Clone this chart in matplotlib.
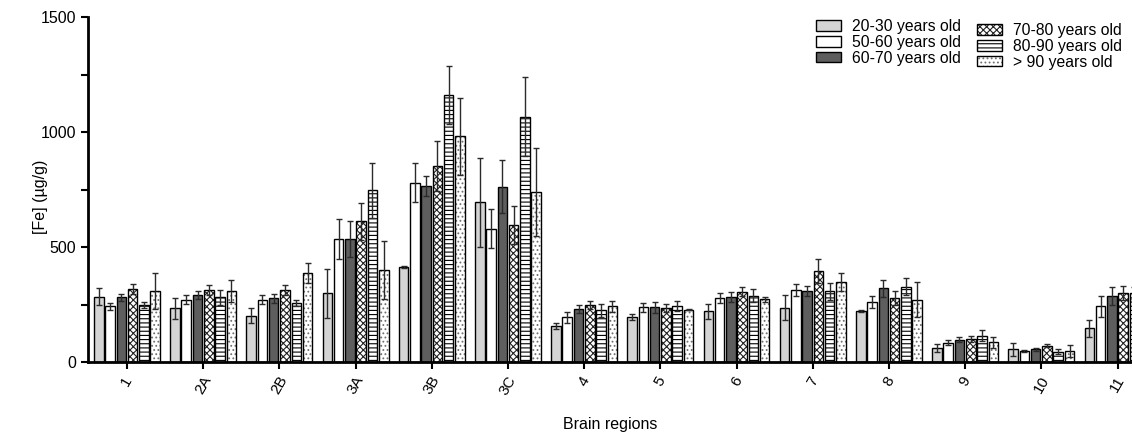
import matplotlib.pyplot as plt
from matplotlib.patches import Patch
from matplotlib.colors import to_rgba
import numpy as np

plt.rcParams['font.family'] = ['Liberation Sans', 'DejaVu Sans']
plt.rcParams['hatch.linewidth'] = 0.8

regions = ['1', '2A', '2B', '3A', '3B', '3C', '4', '5', '6', '7', '8', '9', '10', '11']
age_groups = ['20-30 years old', '50-60 years old', '60-70 years old',
              '70-80 years old', '80-90 years old', '> 90 years old']

fe_20_30 = [284, 233, 201, 299, 412, 694, 155, 197, 220, 236, 220, 62, 55, 146]
sd_20_30 = [37, 45, 32, 107, 5, 192, 13, 13, 32, 54, 4, 18, 29, 37]
fe_50_60 = [243, 271, 271, 536, 780, 580, 194, 238, 278, 312, 259, 84, 48, 242]
sd_50_60 = [15, 19, 19, 86, 84, 84, 25, 19, 23, 27, 26, 12, 4, 45]
fe_60_70 = [281, 291, 277, 535, 765, 762, 232, 238, 284, 309, 320, 97, 55, 287]
sd_60_70 = [15, 16, 19, 78, 45, 116, 17, 23, 22, 23, 38, 12, 7, 40]
fe_70_80 = [317, 314, 312, 612, 852, 596, 248, 236, 306, 397, 278, 99, 71, 300]
sd_70_80 = [23, 21, 21, 81, 110, 84, 16, 18, 19, 52, 29, 13, 6, 32]
fe_80_90 = [248, 281, 258, 746, 1161, 1067, 225, 245, 288, 307, 328, 115, 45, 300]
sd_80_90 = [14, 33, 13, 121, 126, 173, 29, 22, 29, 38, 37, 24, 12, 25]
fe_90 = [309, 309, 386, 399, 981, 738, 243, 228, 272, 348, 271, 86, 48, 300]
sd_90 = [77, 48, 43, 126, 166, 191, 24, 3, 12, 38, 77, 23, 26, 25]

means = [fe_20_30, fe_50_60, fe_60_70, fe_70_80, fe_80_90, fe_90]
sds = [sd_20_30, sd_50_60, sd_60_70, sd_70_80, sd_80_90, sd_90]

# fill, hatch, hatch colour for each age group
styles = [
    ('#d4d4d4', None, 'black'),
    ('white', None, 'black'),
    ('#5e5e5e', None, 'black'),
    ('white', 'xxxxx', '#222222'),
    ('white', '----', 'black'),
    ('white', '....', '#707070'),
]

fig = plt.figure(figsize=(11.32, 4.36), dpi=100)
ax = fig.add_axes([0.0777, 0.1697, 0.9223, 0.7913])

x = np.arange(len(regions))
pitch = 0.148
width = 0.125
for i, (m, s) in enumerate(zip(means, sds)):
    fc, hatch, hc = styles[i]
    pos = x + (i - 2.5) * pitch
    bars = ax.bar(pos, m, width, color=fc, edgecolor='black', linewidth=1.0,
                  hatch=hatch, zorder=2)
    if hatch:
        for b in bars:
            b._hatch_color = to_rgba(hc)
    ax.errorbar(pos, m, yerr=s, fmt='none', ecolor='#2a2a2a', elinewidth=1.0,
                capsize=2, capthick=1.0, zorder=3)

ax.set_xlim(-0.512, 13.19)
ax.set_ylim(0, 1500)
ax.set_yticks(np.arange(0, 1501, 250))
ax.set_yticklabels(['0', '', '500', '', '1000', '', '1500'], fontsize=11.5)
ax.set_xticks(x)
ax.set_xticklabels(regions, rotation=60, fontsize=11)
ax.tick_params(axis='both', width=1.5, length=5, color='black')
for side in ['top', 'right']:
    ax.spines[side].set_visible(False)
for side in ['left', 'bottom']:
    ax.spines[side].set_linewidth(2)

ax.set_ylabel('[Fe] (µg/g)', fontsize=11.5)
ax.yaxis.set_label_coords(-0.038, 0.478)
ax.set_xlabel('Brain regions', fontsize=11.5)
ax.xaxis.set_label_coords(0.5, -0.158)

handles = []
for i, lab in enumerate(age_groups):
    fc, hatch, hc = styles[i]
    p = Patch(facecolor=fc, edgecolor='black', hatch=hatch, label=lab, linewidth=1.0)
    if hatch:
        p._hatch_color = to_rgba(hc)
    handles.append(p)

kw = dict(frameon=False, fontsize=11.3, handlelength=1.6, handleheight=0.65,
          labelspacing=0.05, handletextpad=0.7, borderpad=0, borderaxespad=0)
fig.legend(handles=handles[:3], loc='upper left',
           bbox_to_anchor=(816 / 1132, 1 - 19 / 436), **kw)
fig.legend(handles=handles[3:], loc='upper left',
           bbox_to_anchor=(977 / 1132, 1 - 23 / 436), **kw)

fig.savefig('out.png', dpi=100)
